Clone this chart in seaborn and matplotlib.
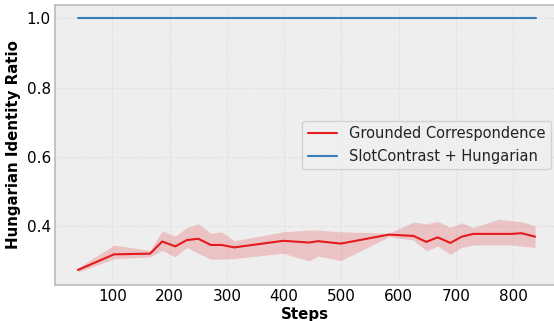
import matplotlib
matplotlib.use("Agg")
import matplotlib.pyplot as plt
import seaborn as sns
import pandas as pd

steps = [40, 103, 166, 187, 210, 230, 250, 272, 291, 313, 398, 444, 459, 499,
         583, 626, 648, 668, 690, 710, 730, 774, 797, 814, 838]
gc_mean = [0.274, 0.319, 0.321, 0.356, 0.342, 0.360, 0.364, 0.346, 0.346, 0.339,
           0.358, 0.353, 0.357, 0.350, 0.376, 0.372, 0.355, 0.368, 0.352, 0.370,
           0.378, 0.378, 0.378, 0.380, 0.370]
gc_upper = [0.280, 0.346, 0.330, 0.387, 0.372, 0.396, 0.407, 0.380, 0.384, 0.358,
            0.384, 0.389, 0.389, 0.384, 0.380, 0.412, 0.407, 0.414, 0.397, 0.410,
            0.396, 0.420, 0.416, 0.413, 0.401]
gc_lower = [0.268, 0.306, 0.312, 0.330, 0.312, 0.339, 0.322, 0.305, 0.305, 0.307,
            0.322, 0.300, 0.314, 0.301, 0.370, 0.360, 0.329, 0.343, 0.319, 0.339,
            0.346, 0.346, 0.346, 0.343, 0.339]
sc_steps = [40, 840]
sc_vals = [1.0, 1.0]

labels = ["Grounded Correspondence", "SlotContrast + Hungarian"]
colors = ["#e41a1c", "#377eb8"]

sns.set_theme(style="whitegrid")
plt.rcParams['font.family'] = ['DejaVu Sans']

fig = plt.figure(figsize=(5.54, 3.21), dpi=100)
ax = fig.add_axes([55 / 554, 1 - 285 / 321, 1 - 55 / 554, 280 / 321])
ax.set_facecolor("#eeeeee")

df_gc = pd.DataFrame({"step": steps, "val": gc_mean})
df_sc = pd.DataFrame({"step": sc_steps, "val": sc_vals})

ax.fill_between(steps, gc_lower, gc_upper, color=colors[0], alpha=0.2, linewidth=0)
sns.lineplot(data=df_gc, x="step", y="val", ax=ax, color=colors[0], linewidth=1.5, label=labels[0])
sns.lineplot(data=df_sc, x="step", y="val", ax=ax, color=colors[1], linewidth=1.5, label=labels[1])

ax.set_xlim(0, 871)
ax.set_ylim(0.2306, 1.038)
ax.set_xticks([100, 200, 300, 400, 500, 600, 700, 800])
ax.set_yticks([0.4, 0.6, 0.8, 1.0])
ax.grid(True, color="#d8d8d8", linestyle=":", linewidth=0.8)
for s in ["left", "bottom", "top"]:
    ax.spines[s].set_color("#bbbbbb")
    ax.spines[s].set_linewidth(1.2)
ax.spines["right"].set_visible(False)
ax.tick_params(direction="in", length=3, width=0.8, color="#333333", labelcolor="black",
               labelsize=11, pad=3)

ax.set_xlabel("Steps", fontsize=10.8, fontweight="bold", labelpad=2, color="black")
ax.set_ylabel("Hungarian Identity Ratio", fontsize=10.8, fontweight="bold", labelpad=4, color="black")

leg = ax.legend(loc="center right", fontsize=10.5, frameon=True, facecolor="#f0f0f0",
                edgecolor="#cccccc", borderaxespad=0.2)
for t in leg.get_texts():
    t.set_color("#222222")

fig.savefig("out.png", dpi=100)
